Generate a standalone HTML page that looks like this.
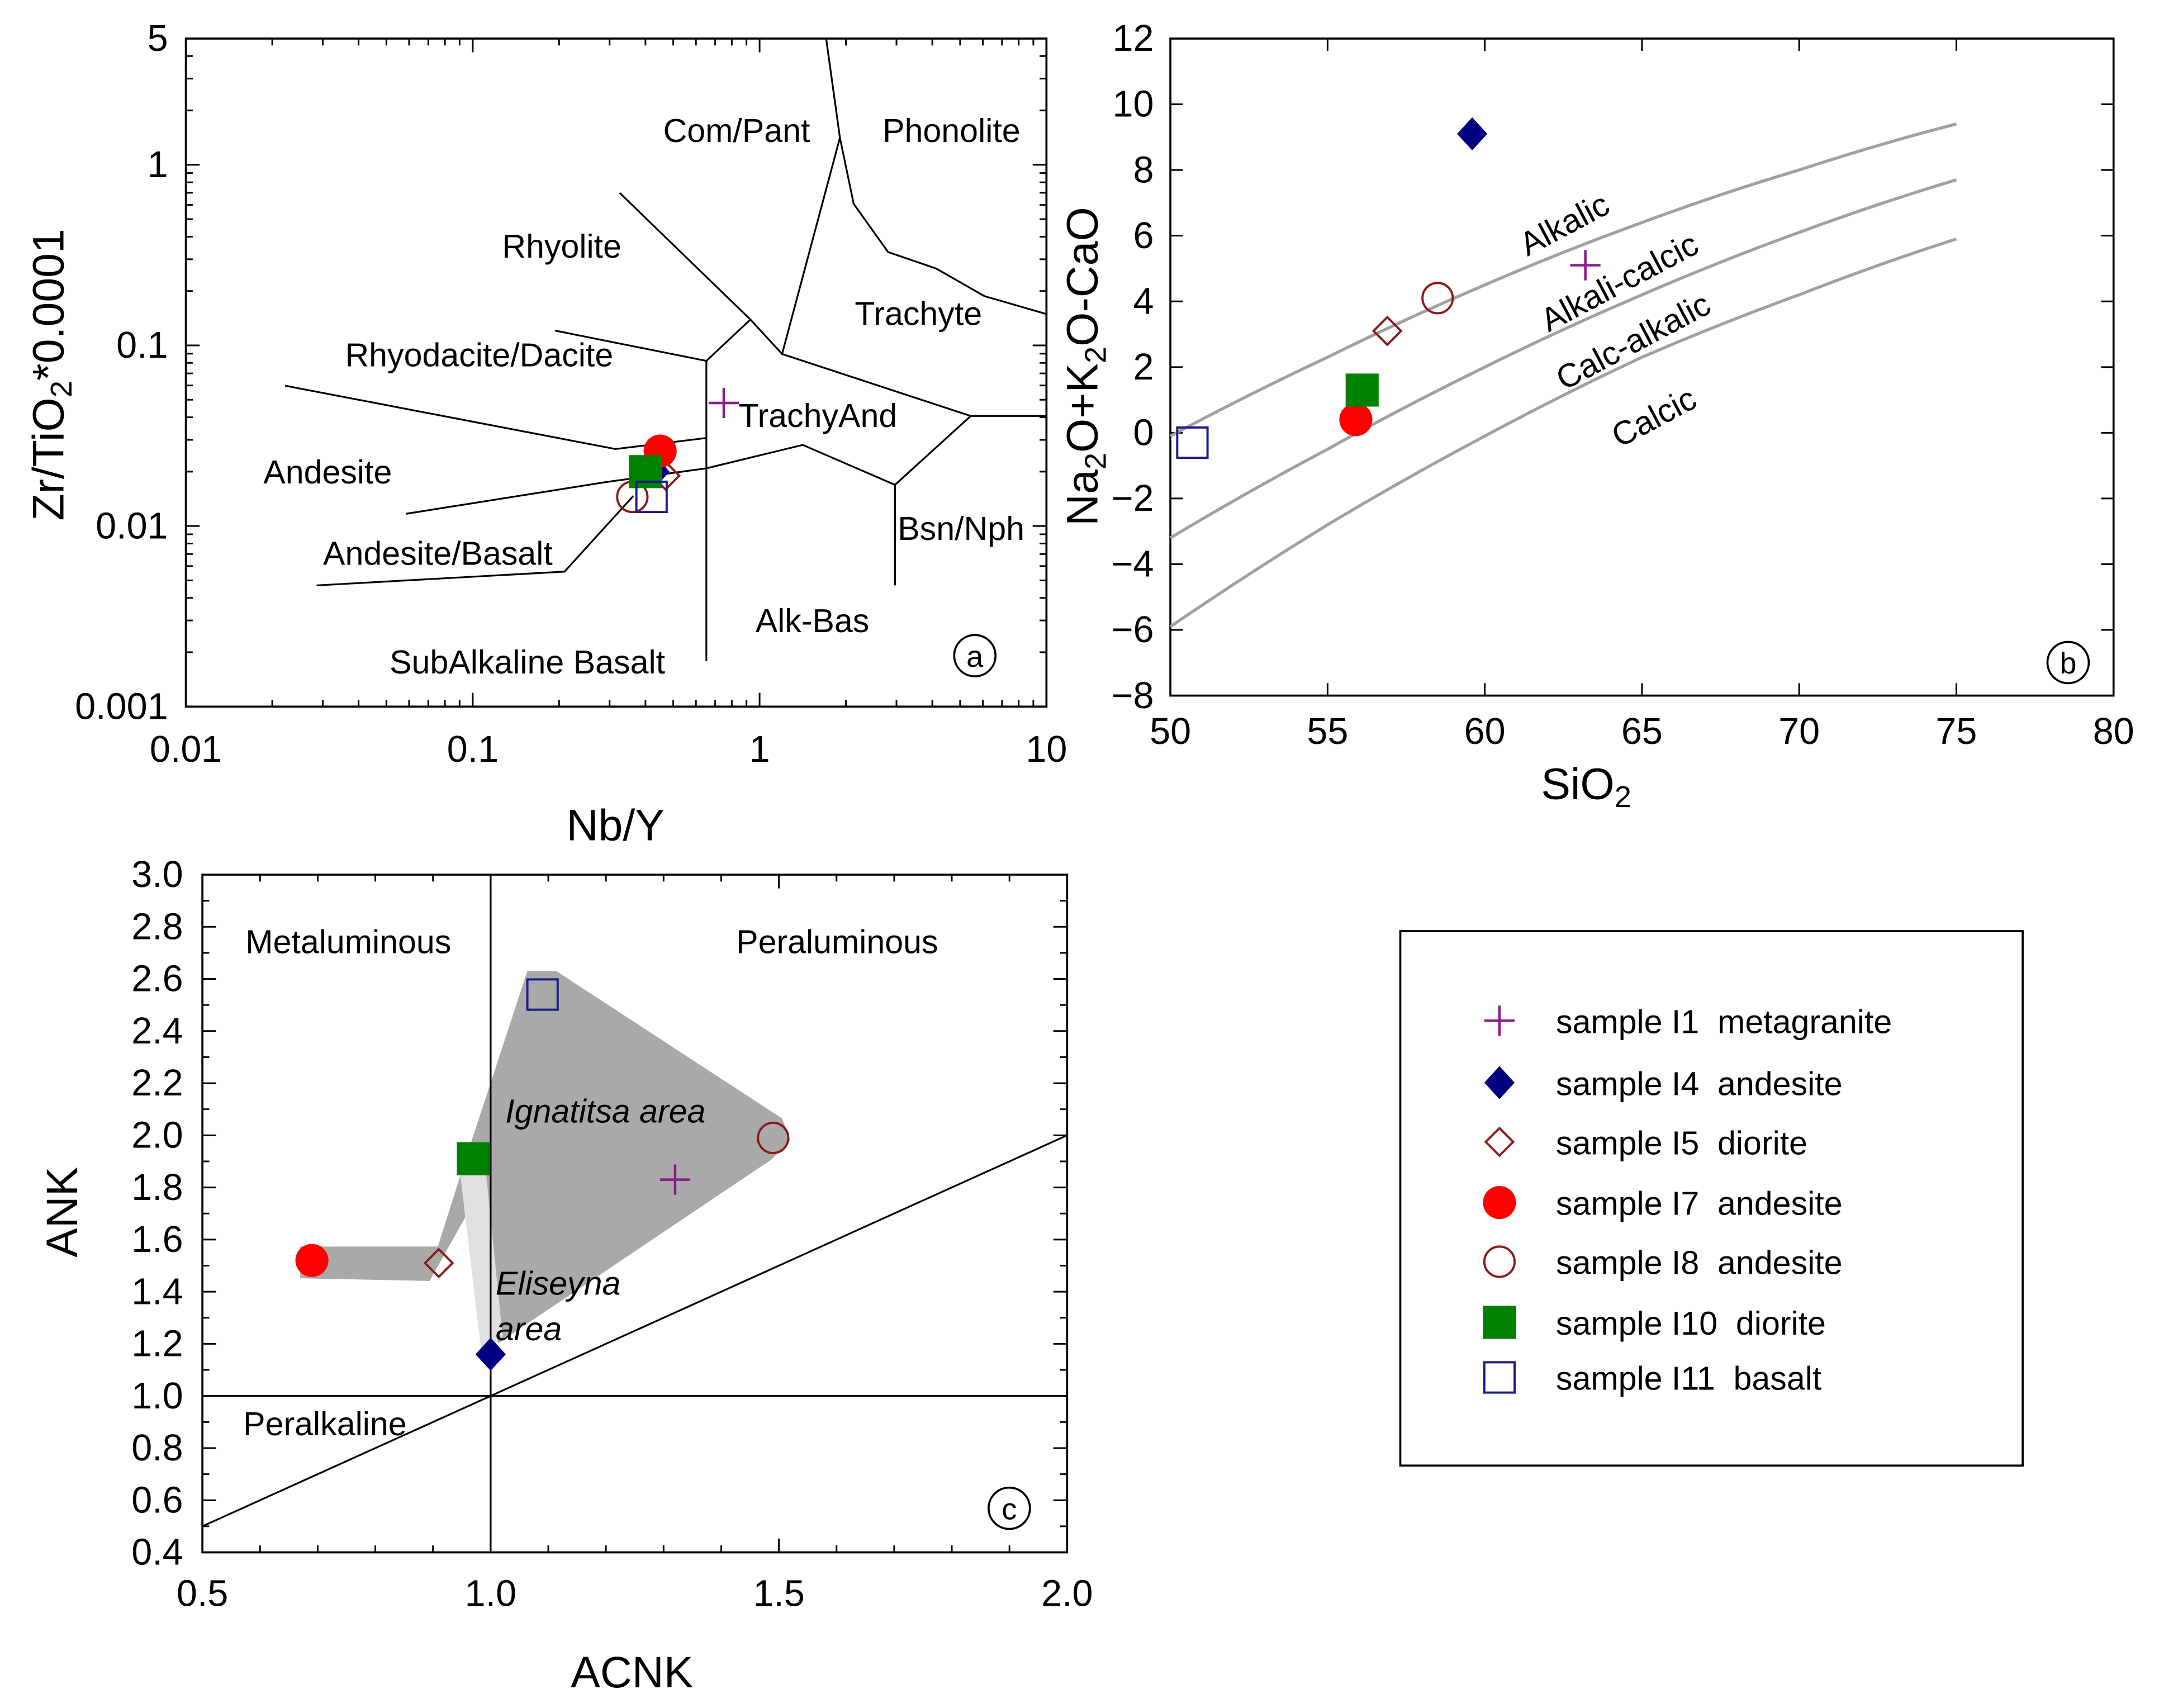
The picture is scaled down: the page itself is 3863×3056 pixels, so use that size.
<!DOCTYPE html>
<html><head><meta charset="utf-8"><style>
html,body{margin:0;padding:0;background:#fff;}
svg{display:block;font-family:"Liberation Sans",Arial,sans-serif;}
</style></head><body>
<svg id="s" width="3863" height="3056" viewBox="0 0 1568 1240" preserveAspectRatio="none" xmlns="http://www.w3.org/2000/svg">
<rect width="1568" height="1240" fill="#fff"/>
</svg>
<script>
// ---------- Panel a data ----------
const aSamples = ['I1','I4','I5','I7','I8','I10','I11'];
const aNbY = [0.75, 0.43, 0.47, 0.45, 0.36, 0.40, 0.42];
const aZrTi = [0.048, 0.020, 0.019, 0.026, 0.0145, 0.020, 0.0145];
// ---------- Panel b data ----------
const bSiO2 = [63.2, 59.6, 56.9, 55.9, 58.5, 56.1, 50.7];
const bMALI = [5.1, 9.1, 3.1, 0.4, 4.1, 1.3, -0.3];
const bCurveX = [50, 55, 60, 65, 70, 75];
const bAlkalic = [-0.1, 2.3, 4.5, 6.4, 8.0, 9.4];
const bAlkCalcic = [-3.2, -0.5, 2.0, 4.2, 6.1, 7.7];
const bCalcAlk = [-5.9, -2.8, -0.1, 2.3, 4.2, 5.9];
// ---------- Panel c data ----------
const cACNK = [1.32, 1.0, 0.91, 0.69, 1.49, 0.97, 1.09];
const cANK = [1.83, 1.16, 1.51, 1.52, 1.99, 1.91, 2.54];
const symbols = ['plus','fdiamond','odiamond','fcircle','ocircle','fsquare','osquare'];
const legendText = ['sample I1  metagranite','sample I4  andesite','sample I5  diorite','sample I7  andesite','sample I8  andesite','sample I10  diorite','sample I11  basalt'];

const svg=document.getElementById('s');
const NS='http://www.w3.org/2000/svg';
function el(tag,attrs,parent){const e=document.createElementNS(NS,tag);for(const k in attrs)e.setAttribute(k,attrs[k]);(parent||svg).appendChild(e);return e;}
function txt(x,y,s,size,anchor,extra){const t=el('text',Object.assign({x:x,y:y,'font-size':size,'text-anchor':anchor||'start',fill:'#000'},extra||{}));t.textContent=s;return t;}

function sym(type,x,y,g){
  let e;
  if(type==='plus'){e=el('path',{d:`M${x-11},${y}H${x+11}M${x},${y-11}V${y+11}`,stroke:'#8b1a8b','stroke-width':1.8,fill:'none'},g);}
  else if(type==='fdiamond'){e=el('path',{d:`M${x},${y-12}L${x+11},${y}L${x},${y+12}L${x-11},${y}Z`,fill:'#000080'},g);}
  else if(type==='odiamond'){e=el('path',{d:`M${x},${y-10}L${x+10},${y}L${x},${y+10}L${x-10},${y}Z`,fill:'none',stroke:'#8b1a1a','stroke-width':1.6},g);}
  else if(type==='fcircle'){e=el('circle',{cx:x,cy:y,r:12,fill:'#ff0000'},g);}
  else if(type==='ocircle'){e=el('circle',{cx:x,cy:y,r:11,fill:'none',stroke:'#8b1a1a','stroke-width':1.6},g);}
  else if(type==='fsquare'){e=el('rect',{x:x-12,y:y-12,width:24,height:24,fill:'#008000'},g);}
  else {e=el('rect',{x:x-11,y:y-11,width:22,height:22,fill:'none',stroke:'#1a1a8b','stroke-width':1.6},g);}
  return e;
}

// ===== Panel a =====
const A={x0:135,x1:760,y0:28,y1:513};
const ax=v=>A.x0+(Math.log10(v)+2)*(A.x1-A.x0)/3;
const ay=v=>A.y0+(Math.log10(5)-Math.log10(v))*(A.y1-A.y0)/(Math.log10(5)+3);
const ga=el('g',{});
el('rect',{x:A.x0,y:A.y0,width:A.x1-A.x0,height:A.y1-A.y0,fill:'none',stroke:'#000','stroke-width':1.5},ga);
for(let d=-2;d<1;d++)for(let m=1;m<10;m++){const v=m*Math.pow(10,d);const x=ax(v);const L=m===1?10:5;
  el('path',{d:`M${x},${A.y1}v${-L}M${x},${A.y0}v${L}`,stroke:'#000','stroke-width':1.2},ga);}
for(let d=-3;d<1;d++)for(let m=1;m<10;m++){const v=m*Math.pow(10,d);if(v>5)continue;const y=ay(v);const L=m===1?10:5;
  el('path',{d:`M${A.x0},${y}h${L}M${A.x1},${y}h${-L}`,stroke:'#000','stroke-width':1.2},ga);}
[[0.01,'0.01'],[0.1,'0.1'],[1,'1'],[10,'10']].forEach(t=>txt(ax(t[0]),553,t[1],27,'middle'));
[[5,'5'],[1,'1'],[0.1,'0.1'],[0.01,'0.01'],[0.001,'0.001']].forEach(t=>txt(122,ay(t[0])+9,t[1],27,'end'));
txt(447,610,'Nb/Y',32,'middle');
const yt=txt(0,0,'',32,'middle',{transform:'translate(46,272) rotate(-90)'});yt.innerHTML='Zr/TiO<tspan font-size="22" dy="6">2</tspan><tspan dy="-6">*0.0001</tspan>';
const aLines=[
 [[207,280],[447,326],[513,318]],
 [[403,240],[513,262]],
 [[295,373],[440,350],[513,340]],
 [[230,425],[410,415],[460,360]],
 [[513,262],[513,480]],
 [[450,140],[545,232],[513,262]],
 [[545,232],[568,257],[610,100],[600,28]],
 [[610,100],[620,148],[645,183],[680,195],[715,215],[760,228]],
 [[568,257],[705,302],[760,302]],
 [[705,302],[650,352],[650,425]],
 [[650,352],[583,323],[513,340]]
];
aLines.forEach(l=>{const p=el('polyline',{points:l.map(q=>q.join(',')).join(' '),fill:'none',stroke:'#000','stroke-width':1.3},ga);});
[[535,103,'Com/Pant'],[691,103,'Phonolite'],[408,187,'Rhyolite'],[667,236,'Trachyte'],[348,266,'Rhyodacite/Dacite'],[594,310,'TrachyAnd'],[238,351,'Andesite'],[698,392,'Bsn/Nph'],[318,410,'Andesite/Basalt'],[590,459,'Alk-Bas'],[383,489,'SubAlkaline Basalt']].forEach(t=>{const e=txt(t[0],t[1],t[2],24,'middle');});
el('circle',{cx:708,cy:476,r:15,fill:'none',stroke:'#000','stroke-width':1.5},ga);txt(708,484,'a',22,'middle');
aSamples.forEach((s,i)=>{const e=sym(symbols[i],ax(aNbY[i]),ay(aZrTi[i]),ga);});

// ===== Panel b =====
const B={x0:850,x1:1535,y0:28,y1:505};
const bx=v=>B.x0+(v-50)*(B.x1-B.x0)/30;
const by=v=>B.y0+(12-v)*(B.y1-B.y0)/20;
const gb=el('g',{});
el('rect',{x:B.x0,y:B.y0,width:B.x1-B.x0,height:B.y1-B.y0,fill:'none',stroke:'#000','stroke-width':1.5},gb);
for(let v=50;v<=80;v+=5){el('path',{d:`M${bx(v)},${B.y1}v-9M${bx(v)},${B.y0}v9`,stroke:'#000','stroke-width':1.2},gb);txt(bx(v),540,String(v),27,'middle');}
for(let v=-8;v<=12;v+=2){el('path',{d:`M${B.x0},${by(v)}h9M${B.x1},${by(v)}h-9`,stroke:'#000','stroke-width':1.2},gb);txt(838,by(v)+9,v<0?'−'+(-v):String(v),27,'end');}
const bxt=txt(1152,580,'',32,'middle');bxt.innerHTML='SiO<tspan font-size="22" dy="6">2</tspan>';
const byt=txt(0,0,'',32,'middle',{transform:'translate(797,266) rotate(-90)'});byt.innerHTML='Na<tspan font-size="22" dy="6">2</tspan><tspan dy="-6">O+K</tspan><tspan font-size="22" dy="6">2</tspan><tspan dy="-6">O-CaO</tspan>';
[bAlkalic,bAlkCalcic,bCalcAlk].forEach((arr,k)=>{
  let d='';arr.forEach((v,i)=>{const x=bx(bCurveX[i]),y=by(v);if(i===0)d+=`M${x},${y}`;else{const px=bx(bCurveX[i-1]),py=by(arr[i-1]);const mx=(px+x)/2;d+=`Q${mx},${(py+y)/2-2} ${x},${y}`;}});
  const p=el('path',{d:d,fill:'none',stroke:'#a0a0a0','stroke-width':2.2},gb);});
[[1140,170,'Alkalic',-28],[1180,212,'Alkali-calcic',-28],[1190,255,'Calc-alkalic',-28],[1205,310,'Calcic',-28]].forEach(t=>{const e=txt(t[0],t[1],t[2],24,'middle',{transform:`rotate(${t[3]} ${t[0]} ${t[1]})`});});
el('circle',{cx:1502,cy:481,r:15,fill:'none',stroke:'#000','stroke-width':1.5},gb);txt(1502,489,'b',22,'middle');
aSamples.forEach((s,i)=>{const e=sym(symbols[i],bx(bSiO2[i]),by(bMALI[i]),gb);});

// ===== Panel c =====
const C={x0:147,x1:775,y0:635,y1:1127};
const cx=v=>C.x0+(v-0.5)*(C.x1-C.x0)/1.5;
const cy=v=>C.y0+(3.0-v)*(C.y1-C.y0)/2.6;
const gc=el('g',{});
let p1=el('polygon',{points:'218,905 318,905 337,845 383,705 404,705 568,812 574,828 560,842 362,975 352,960 340,880 312,930 218,928',fill:'#a9a9a9'},gc);
let p2=el('polygon',{points:'333,842 352,842 365,970 350,985',fill:'#e0e0e0'},gc);
el('rect',{x:C.x0,y:C.y0,width:C.x1-C.x0,height:C.y1-C.y0,fill:'none',stroke:'#000','stroke-width':1.5},gc);
for(let i=0;i<=15;i++){const v=0.5+i*0.1,x=cx(v),L=i%5===0?10:5;el('path',{d:`M${x},${C.y1}v${-L}M${x},${C.y0}v${L}`,stroke:'#000','stroke-width':1.2},gc);}
[0.5,1.0,1.5,2.0].forEach(v=>txt(cx(v),1166,v.toFixed(1),27,'middle'));
for(let i=0;i<=26;i++){const v=0.4+i*0.1,y=cy(v),L=i%2===0?10:5;el('path',{d:`M${C.x0},${y}h${L}M${C.x1},${y}h${-L}`,stroke:'#000','stroke-width':1.2},gc);if(i%2===0)txt(133,y+9,v.toFixed(1),27,'end');}
txt(459,1225,'ACNK',32,'middle');
txt(0,0,'ANK',32,'middle',{transform:'translate(56,880) rotate(-90)'});
el('line',{x1:cx(1.0),y1:C.y0,x2:cx(1.0),y2:C.y1,stroke:'#000','stroke-width':1.3},gc);
el('line',{x1:C.x0,y1:cy(1.0),x2:C.x1,y2:cy(1.0),stroke:'#000','stroke-width':1.3},gc);
el('line',{x1:cx(0.5),y1:cy(0.5),x2:cx(2.0),y2:cy(2.0),stroke:'#000','stroke-width':1.3},gc);
txt(253,692,'Metaluminous',24,'middle');txt(608,692,'Peraluminous',24,'middle');txt(236,1042,'Peralkaline',24,'middle');
txt(367,815,'Ignatitsa area',24,'start',{'font-style':'italic'});
txt(360,940,'Eliseyna',24,'start',{'font-style':'italic'});txt(360,973,'area',24,'start',{'font-style':'italic'});
el('circle',{cx:733,cy:1095,r:15,fill:'none',stroke:'#000','stroke-width':1.5},gc);txt(733,1103,'c',22,'middle');
aSamples.forEach((s,i)=>{const e=sym(symbols[i],cx(cACNK[i]),cy(cANK[i]),gc);});

// ===== Legend =====
const gl=el('g',{});
el('rect',{x:1017,y:676,width:452,height:388,fill:'none',stroke:'#000','stroke-width':1.5},gl);
const ly=[741,786,829,873,916,960,1000];
legendText.forEach((t,i)=>{const g=el('g',{},gl);sym(symbols[i],1089,ly[i],g);txt(1130,ly[i]+9,t,24,'start',{style:'white-space:pre'});});
</script>
</body></html>
